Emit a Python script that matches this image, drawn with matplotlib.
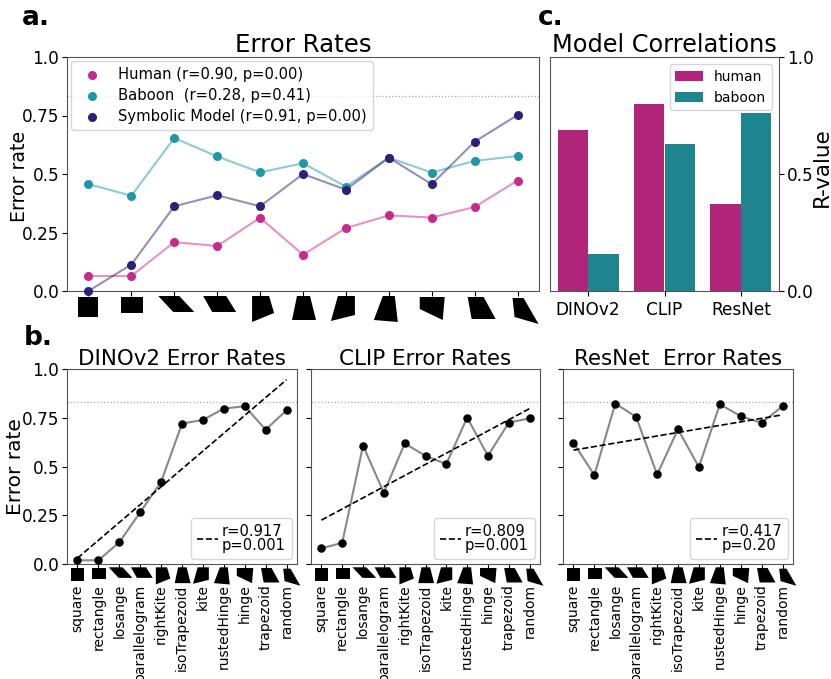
import matplotlib
matplotlib.use("Agg")
import matplotlib.pyplot as plt
from matplotlib.patches import Polygon
from matplotlib.transforms import Affine2D

W, H = 831, 679

conditions = ["square", "rectangle", "losange", "parallelogram", "rightKite", "isoTrapezoid",
              "kite", "rustedHinge", "hinge", "trapezoid", "random"]

human = [0.064, 0.064, 0.209, 0.192, 0.313, 0.155, 0.269, 0.323, 0.314, 0.359, 0.472]
baboon = [0.457, 0.407, 0.654, 0.575, 0.507, 0.546, 0.446, 0.57, 0.506, 0.556, 0.577]
symbolic = [0.0, 0.113, 0.362, 0.409, 0.362, 0.50, 0.433, 0.57, 0.456, 0.638, 0.752]

models = ["DINOv2", "CLIP", "ResNet"]
r_human = [0.69, 0.80, 0.37]
r_baboon = [0.16, 0.63, 0.76]

dinov2 = [0.019, 0.019, 0.111, 0.265, 0.421, 0.72, 0.739, 0.797, 0.809, 0.689, 0.788]
clip = [0.08, 0.109, 0.607, 0.365, 0.618, 0.555, 0.512, 0.751, 0.555, 0.725, 0.747]
resnet = [0.621, 0.456, 0.823, 0.754, 0.459, 0.691, 0.497, 0.819, 0.758, 0.724, 0.809]
fit_start = [0.03, 0.225, 0.584]
fit_end = [0.945, 0.797, 0.765]
fit_labels = ["r=0.917\np=0.001", "r=0.809\np=0.001", "r=0.417\np=0.20"]

# the little stimulus shapes under the axes, in pixels from the tick (y down from spine)
shapes = [
    [(-10, 6), (10, 6), (10, 26), (-10, 26)],
    [(-10, 6), (12, 6), (12, 22), (-10, 22)],
    [(-16, 5), (5, 5), (20, 21), (-1, 21)],
    [(-14, 5), (9, 5), (19, 21), (-5, 21)],
    [(-8, 5), (9, 5), (14, 22), (-8, 31)],
    [(-6, 5), (7, 5), (13, 29), (-11, 29)],
    [(-8, 5), (9, 5), (9, 24), (-15, 30)],
    [(-6, 5), (6, 5), (9, 31), (-15, 29)],
    [(-12, 6), (13, 6), (11, 29), (-12, 18)],
    [(-7, 6), (9, 6), (21, 28), (-3, 28)],
    [(-5, 7), (6, 7), (21, 33), (-3, 26)],
]

PINK = "#c72a8c"
TEAL = "#1d98a5"
PURPLE = "#2e1f78"
BAR_PINK = "#b0257a"
BAR_TEAL = "#1d8490"


def make_axes(left, top, right, bottom):
    return plt.axes([left / W, 1 - bottom / H, (right - left) / W, (bottom - top) / H])


def draw_shapes(ax, scale):
    for i, verts in enumerate(shapes):
        x0, y0 = ax.transData.transform((i, 0))
        tr = Affine2D().scale(scale, -scale).translate(x0, y0)
        ax.add_artist(Polygon(verts, closed=True, facecolor="black", edgecolor="none",
                              transform=tr, clip_on=False))


def style_spines(ax):
    for s in ax.spines.values():
        s.set_color("#555555")


fig = plt.figure(figsize=(W / 100, H / 100), dpi=100)

# a. error rates
ax = make_axes(67, 57, 539, 291)
ax.axhline(0.833, color="#aaaaaa", linestyle=":", linewidth=0.9)
xs = list(range(len(conditions)))
for vals, col, lab in [(human, PINK, "Human (r=0.90, p=0.00)"),
                       (baboon, TEAL, "Baboon  (r=0.28, p=0.41)"),
                       (symbolic, PURPLE, "Symbolic Model (r=0.91, p=0.00)")]:
    ax.plot(xs, vals, color=col, alpha=0.5, linewidth=1.5, clip_on=False)
    ax.scatter(xs, vals, color=col, s=30, label=lab, zorder=3, clip_on=False)
ax.set_xlim(-0.5, 10.5)
ax.set_ylim(0, 1)
ax.set_xticks(xs)
ax.set_xticklabels([])
ax.set_yticks([0, 0.25, 0.5, 0.75, 1.0])
ax.set_yticklabels(["0.0", "0.25", "0.5", "0.75", "1.0"], fontsize=12.2)
ax.tick_params(axis="y", pad=2)
ax.set_ylabel("Error rate", fontsize=13.7)
ax.yaxis.set_label_coords((29 - 67) / 472, 0.49)
ax.set_title("Error Rates", fontsize=17.6, pad=3.5)
ax.legend(loc="upper left", fontsize=10.6, bbox_to_anchor=(0.0085, 0.983), borderaxespad=0.0,
          labelspacing=0.42, handletextpad=0.8)
style_spines(ax)
draw_shapes(ax, 1.0)

# c. model correlations
ax = make_axes(550, 57, 779, 291)
pos = list(range(len(models)))
ax.bar([p - 0.2 for p in pos], r_human, width=0.4, color=BAR_PINK, label="human")
ax.bar([p + 0.2 for p in pos], r_baboon, width=0.4, color=BAR_TEAL, label="baboon")
ax.set_xlim(-0.5, 2.5)
ax.set_ylim(0, 1)
ax.set_xticks(pos)
ax.set_xticklabels(models, fontsize=12.2)
ax.yaxis.tick_right()
ax.yaxis.set_label_position("right")
ax.set_yticks([0, 0.5, 1.0])
ax.set_yticklabels(["0.0", "0.5", "1.0"], fontsize=12.2)
ax.tick_params(axis="y", pad=2)
ax.set_ylabel("R-value", fontsize=15.5)
ax.yaxis.set_label_coords(1.142, 0.528)
ax.set_title("Model Correlations", fontsize=17.3, pad=3.5)
ax.legend(loc="upper right", fontsize=10, bbox_to_anchor=(0.968, 0.97), borderaxespad=0.0)
style_spines(ax)

# b. the three model panels
panels = [(67, 297, dinov2, "DINOv2 Error Rates"),
          (311, 540, clip, "CLIP Error Rates"),
          (563, 793, resnet, "ResNet  Error Rates")]
for i, (left, right, vals, title) in enumerate(panels):
    ax = make_axes(left, 369, right, 564)
    ax.axhline(0.833, color="#aaaaaa", linestyle=":", linewidth=0.9)
    ax.plot(xs, vals, color="#888888", linewidth=1.5)
    ax.scatter(xs, vals, color="black", s=26, zorder=3)
    fit, = ax.plot([xs[0], xs[-1]], [fit_start[i], fit_end[i]], color="black",
                   linestyle="--", linewidth=1.2, label=fit_labels[i])
    ax.set_xlim(-0.5, 10.5)
    ax.set_ylim(0, 1)
    ax.set_xticks(xs)
    ax.set_xticklabels(conditions, rotation=90, fontsize=10)
    ax.tick_params(axis="x", pad=11)
    ax.set_yticks([0, 0.25, 0.5, 0.75, 1.0])
    if i == 0:
        ax.set_yticklabels(["0.0", "0.25", "0.5", "0.75", "1.0"], fontsize=12.2)
        ax.tick_params(axis="y", pad=2)
        ax.set_ylabel("Error rate", fontsize=14.5)
        ax.yaxis.set_label_coords((25 - 67) / 230, 0.5)
    else:
        ax.set_yticklabels([])
    ax.set_title(title, fontsize=15.4, pad=3)
    leg = ax.legend(handles=[fit], loc="lower right", fontsize=10.6, handlelength=1.4,
                    handletextpad=0.3, borderpad=0.4, borderaxespad=0.35)
    for t in leg.get_texts():
        t.set_linespacing(0.9)
        t.set_multialignment("left")
    style_spines(ax)
    draw_shapes(ax, 0.66)

fig.text(22 / W, 1 - 25 / H, "a.", fontsize=19, fontweight="bold")
fig.text(24 / W, 1 - 345 / H, "b.", fontsize=19, fontweight="bold")
fig.text(538 / W, 1 - 25 / H, "c.", fontsize=19, fontweight="bold")

fig.savefig("out.png", dpi=100)
